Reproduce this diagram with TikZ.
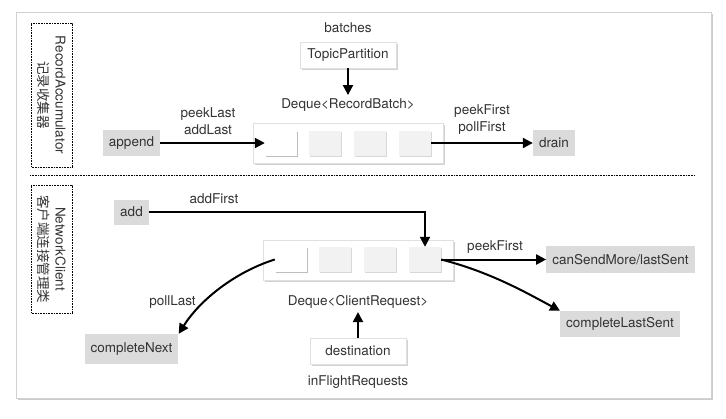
\documentclass[tikz,border=0pt]{standalone}
\usepackage{fontspec}
\setmainfont{TeX Gyre Heros}
\newfontfamily\cjk{Noto Sans CJK SC}
\usetikzlibrary{arrows.meta,shadows}
\tikzset{>/.tip={Triangle[length=10pt,width=10pt]}}

\begin{document}
\begin{tikzpicture}[x=1pt,y=-1pt,
  font=\fontsize{13.5}{17}\selectfont, text=black!80,
  op/.style={fill=black!14, inner xsep=6pt, minimum height=26pt},
  wbox/.style={fill=white, draw=black!12, inner xsep=6pt, minimum height=26pt,
    drop shadow={opacity=0.35, shadow xshift=1.5pt, shadow yshift=-1.5pt}},
  cell/.style={fill=black!5, minimum width=32pt, minimum height=25pt,
    drop shadow={opacity=0.3, shadow xshift=1pt, shadow yshift=-1pt}},
  lbl/.style={draw=black, line width=0.6pt, dash pattern=on 0.8pt off 0.8pt,
    rotate=-90, align=center, inner sep=0pt, minimum height=41pt},
  arr/.style={->, line width=2pt, black}]
\useasboundingbox (0,0) rectangle (726,418);
\fill[white] (0,0) rectangle (726,418);
\draw[black!18, fill=white, drop shadow={opacity=0.4, shadow xshift=2pt, shadow yshift=-2pt}]
  (16,12) rectangle (711,398);
\draw[line width=0.6pt, dash pattern=on 0.8pt off 0.8pt] (30,175.5) -- (695,175.5);

% RecordAccumulator
\node[lbl, minimum width=144pt] (la) at (51.5,95) {RecordAccumulator\\{\cjk 记录收集器}};
\node (bt) at (348,28) {batches};
\node[wbox, minimum width=96pt] (tp) at (348,55) {TopicPartition};
\node (dr) at (348,105) {Deque<RecordBatch>};
\node[wbox, minimum width=190pt, minimum height=40pt] (qr) at (348,143) {};
\foreach \i/\x in {1/281,2/325,3/370,4/415}
  \node[cell] (r\i) at (\x,143) {};
\node[cell, fill=white] at (r1) {};
\node[op] (ap) at (131.5,143) {append};
\node[op] (dn) at (554,143) {drain};
\node[align=center] (pl) at (208,121) {peekLast\\addLast};
\node[align=center] (pf) at (482,120) {peekFirst\\pollFirst};

\draw[arr] (tp) -- (dr);
\draw[arr] (ap) -- (r1);
\draw[arr] (r4) -- (dn);

% NetworkClient
\node[lbl, minimum width=128pt] (ln) at (51.5,249) {NetworkClient\\{\cjk 客户端连接管理类}};
\node[op, minimum height=25pt] (ad) at (131.5,212) {add};
\node (af) at (214,199) {addFirst};
\node[wbox, minimum width=190pt, minimum height=40pt] (qc) at (358,260) {};
\foreach \i/\x in {1/291,2/335,3/380,4/425}
  \node[cell] (c\i) at (\x,259.5) {};
\node[cell, fill=white] at (c1) {};
\node (dc) at (358,302) {Deque<ClientRequest>};
\node[wbox, minimum width=96pt] (ds) at (358,351) {destination};
\node (ir) at (358,382) {inFlightRequests};
\node[op, minimum height=27pt] (cs) at (620.5,259.5) {canSendMore/lastSent};
\node[op] (cl) at (620,324) {completeLastSent};
\node[op, minimum height=30pt] (cn) at (131.5,349) {completeNext};
\node (pk) at (495,247) {peekFirst};
\node (po) at (172.5,302) {pollLast};

\draw[arr] (ad) -| (c4);
\draw[arr] (c4) -- (cs);
\draw[arr] (c4.east) .. controls (490,272) and (525,292) .. (cl.north west);
\draw[arr] (c1.west) .. controls (235,272) and (200,300) .. (cn.north east);
\draw[arr] (ds) -- (dc);
\end{tikzpicture}
\end{document}
